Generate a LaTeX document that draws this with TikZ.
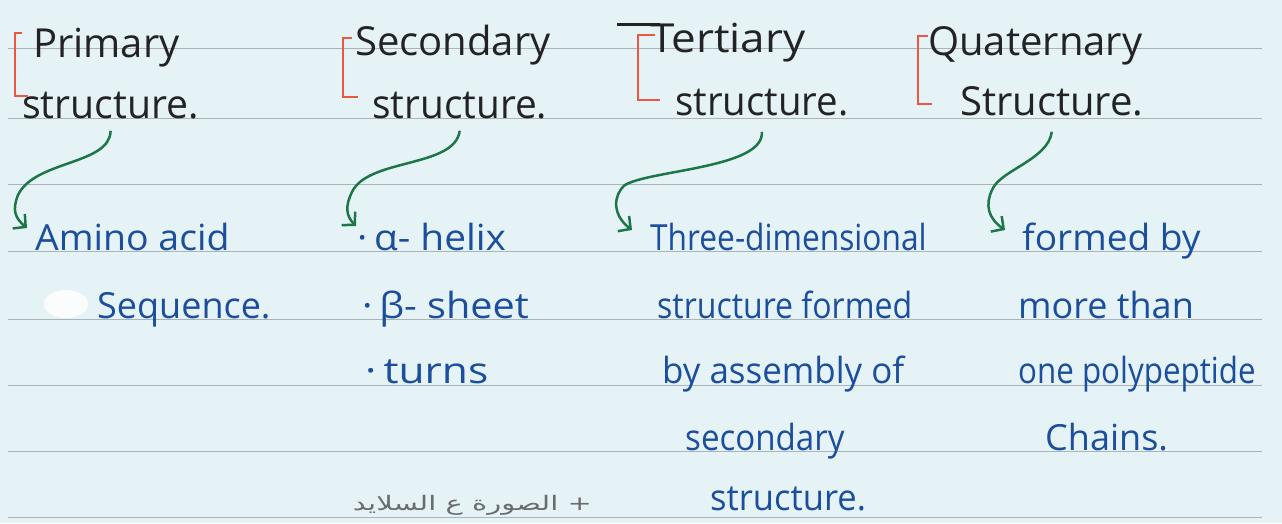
\documentclass[tikz,border=0pt]{standalone}
\usepackage{fontspec}
\setmainfont{Open Sans}
\newfontfamily\arabicfont[Script=Arabic]{DejaVu Sans}
\TeXXeTstate=1
\usetikzlibrary{arrows.meta}
\definecolor{paper}{RGB}{229,243,246}
\definecolor{ink}{RGB}{35,35,38}
\definecolor{pen}{RGB}{28,78,158}
\definecolor{grn}{RGB}{28,118,72}
\definecolor{brkred}{RGB}{232,88,66}
\definecolor{rulegrey}{RGB}{170,180,184}
\definecolor{faint}{RGB}{105,108,112}
\newcommand{\sx}[2]{\scalebox{#1}[1]{#2}}
\begin{document}
\begin{tikzpicture}[x=1pt,y=-1pt,
  head/.style={anchor=base west, inner sep=0pt, text=ink, font=\fontsize{40}{40}\selectfont},
  body/.style={anchor=base west, inner sep=0pt, text=pen, font=\fontsize{36}{36}\selectfont},
  brk/.style={draw=brkred, line width=2.2pt},
  garrow/.style={draw=grn, line width=2.5pt, -{Straight Barb[length=9pt,width=19pt]}},
  rule/.style={draw=rulegrey, line width=0.8pt}]
\useasboundingbox (0,0) rectangle (1282,523);
\fill[paper] (0,0) rectangle (1282,523);
% ruled lines
\foreach \yy in {48,118,184,251,319,385,451,517}
  \draw[rule] (8,\yy) -- (1262,\yy);
% white blot
\fill[white, opacity=0.85] (66,304) ellipse [x radius=22, y radius=14];

% column 1
\node[head] (h1a) at (33,57) {Primary};
\node[head] (h1b) at (22,118) {\sx{0.98}{structure.}};
\draw[brk] (22,33) -- (15,33) -- (15,96) -- (28,96);
\node[body] (a1) at (35,250) {\sx{1.04}{Amino acid}};
\node[body] (a2) at (97,318) {Sequence.};
\draw[garrow] ([yshift=-12pt]h1b.south) .. controls (110,165) and (35,160) .. (18,195)
  .. controls (12,210) and (15,218) .. ([xshift=-8pt,yshift=22pt]a1.base west);

% column 2
\node[head] (h2a) at (355,55) {Secondary};
\node[head] (h2b) at (372,118) {\sx{0.97}{structure.}};
\draw[brk] (352,38) -- (343,38) -- (343,97) -- (358,97);
\node[body] (b1) at (357,250) {\sx{1.08}{\textperiodcentered\,α- helix}};
\node[body] (b2) at (362,318) {\sx{1.1}{\textperiodcentered\,β- sheet}};
\node[body] (b3) at (365,383) {\sx{1.18}{\textperiodcentered\,turns}};
\draw[garrow] ([yshift=-12pt]h2b.south) .. controls (455,168) and (368,158) .. (352,192)
  .. controls (345,206) and (346,216) .. ([xshift=-1pt,yshift=24pt]b1.base west);

% column 3
\node[head] (h3a) at (650,52) {\sx{1.1}{Tertiary}};
\draw[ink, line width=2.6pt] (617,24.6) -- (660,24.6);
\node[head] (h3b) at (675,115) {\sx{0.96}{structure.}};
\draw[brk] (655,35) -- (638,35) -- (638,100) -- (660,100);
\node[body] (c1) at (650,250) {\sx{0.88}{Three-dimensional}};
\node[body] (c2) at (657,318) {\sx{0.89}{structure formed}};
\node[body] (c3) at (662,383) {\sx{0.97}{by assembly of}};
\node[body] (c4) at (685,450) {\sx{0.92}{secondary}};
\node[body] (c5) at (710,510) {\sx{0.96}{structure.}};
\draw[garrow] ([yshift=-16pt]h3b.south) .. controls (765,168) and (650,170) .. (625,185)
  .. controls (613,195) and (612,215) .. ([xshift=-18pt,yshift=20pt]c1.base west);

% column 4
\node[head] (h4a) at (928,55) {Quaternary};
\node[head] (h4b) at (960,115) {Structure.};
\draw[brk] (928,36) -- (918,36) -- (918,104) -- (932,104);
\node[body] (d1) at (1022,250) {\sx{1.03}{formed by}};
\node[body] (d2) at (1018,318) {more than};
\node[body] (d3) at (1018,383) {\sx{0.87}{one polypeptide}};
\node[body] (d4) at (1045,450) {Chains.};
\draw[garrow] ([yshift=-16pt]h4b.south) .. controls (1048,160) and (1000,170) .. (992,190)
  .. controls (985,205) and (988,218) .. ([xshift=-17pt,yshift=20pt]d1.base west);

% faint Arabic note
\node[anchor=base east, inner sep=0pt, text=faint, font=\arabicfont\fontsize{20}{22}\selectfont] (note) at (592,510) {\sx{1.45}{\beginR + الصورة ع السلايد\endR}};
\end{tikzpicture}
\end{document}
